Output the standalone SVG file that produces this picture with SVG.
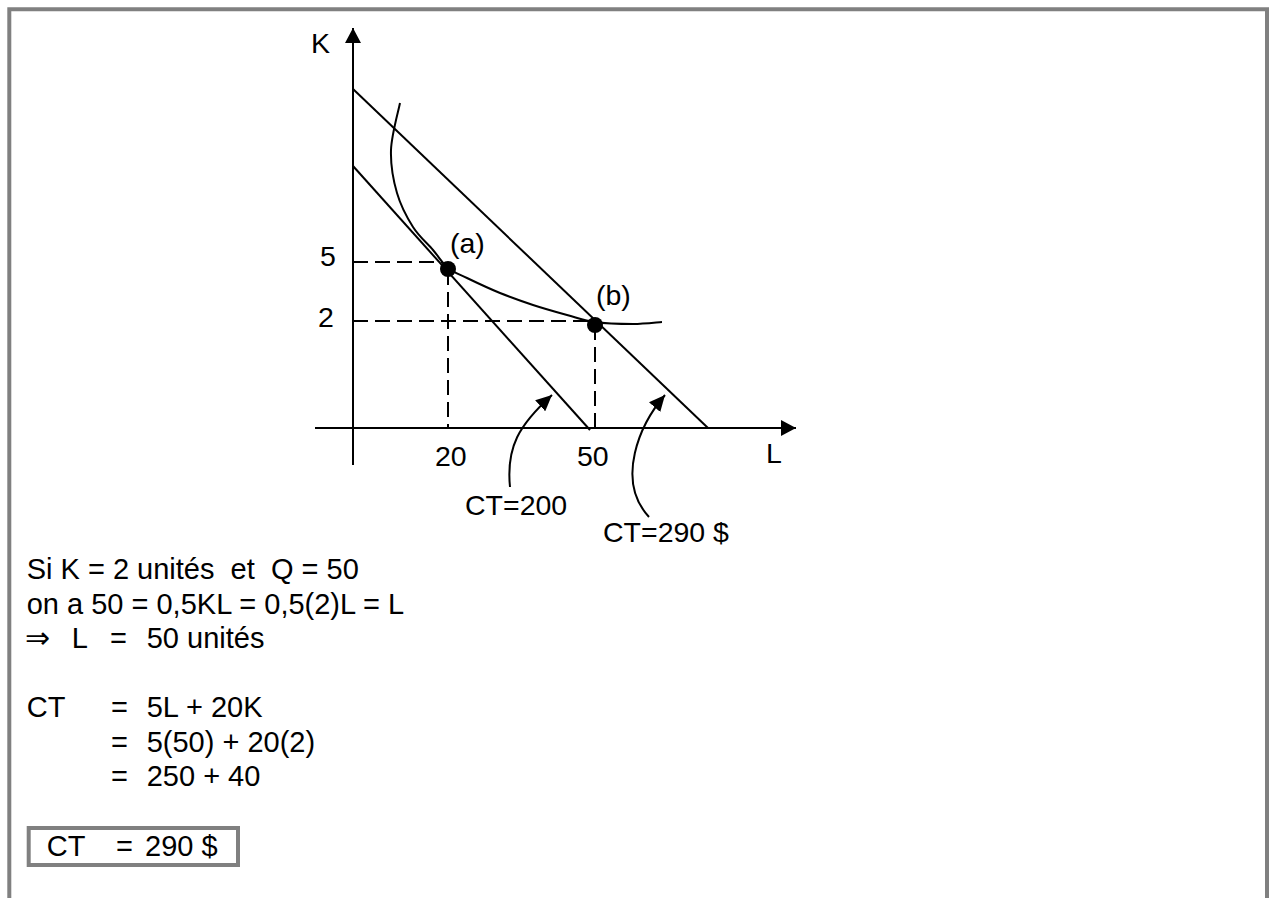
<svg xmlns="http://www.w3.org/2000/svg" width="1270" height="898" viewBox="0 0 1270 898">
<style>
  .t { font-family: "Liberation Sans", Arial, sans-serif; font-size: 28.5px; fill: #000; white-space: pre; }
  .b { font-size: 29px; }
  .sym { font-family: "DejaVu Sans", sans-serif; font-size: 30px; }
  .ln { stroke: #000; stroke-width: 2; fill: none; }
  .dash { stroke: #000; stroke-width: 2; fill: none; stroke-dasharray: 15 7; }
  .frame { stroke: #808080; stroke-width: 4; fill: none; }
</style>
<defs>
  <marker id="axisArrow" markerUnits="userSpaceOnUse" markerWidth="16" markerHeight="16" refX="15" refY="8" orient="auto">
    <path d="M0,0 L15,8 L0,16 z" fill="#000"/>
  </marker>
  <marker id="ptr" markerUnits="userSpaceOnUse" markerWidth="17" markerHeight="15" refX="16" refY="7.5" orient="auto">
    <path d="M0,0 L16,7.5 L0,15 z" fill="#000"/>
  </marker>
</defs>
<rect width="1270" height="898" fill="#fff"/>
<g id="frame">
  <path class="frame" d="M9.3,900 V9.2 H1267 V900"/>
</g>
<g id="axes">
  <line class="ln" x1="353" y1="465" x2="353" y2="28" marker-end="url(#axisArrow)"/>
  <line class="ln" x1="315" y1="428" x2="796" y2="428" marker-end="url(#axisArrow)"/>
  <text class="t" x="311" y="53">K</text>
  <text class="t" x="766" y="463">L</text>
</g>
<g id="budget-lines">
  <line class="ln" x1="353" y1="89" x2="708" y2="428"/>
  <line class="ln" x1="353" y1="166" x2="590" y2="430"/>
</g>
<g id="guides">
  <line class="dash" x1="353" y1="262" x2="442" y2="262"/>
  <line class="dash" x1="448" y1="270" x2="448" y2="428"/>
  <line class="dash" x1="353" y1="321" x2="588" y2="321"/>
  <line class="dash" x1="595" y1="325" x2="595" y2="428"/>
  <text class="t" x="320" y="266">5</text>
  <text class="t" x="318" y="327">2</text>
  <text class="t" x="435" y="466">20</text>
  <text class="t" x="577" y="466">50</text>
</g>
<g id="isoquant">
  <path class="ln" d="M400,103 C398.5,110.8 391.5,135 391,150 C390.5,165 393.3,180.2 397,193 C400.7,205.8 407,217.5 413,227 C419,236.5 427.2,243.2 433,250 C438.8,256.8 442.3,263.3 448,268 C453.7,272.7 458.3,273.8 467,278 C475.7,282.2 489,288.5 500,293 C511,297.5 521.8,301.3 533,305 C544.2,308.7 556.8,312.2 567,315 C577.2,317.8 583,320.5 594,322 C605,323.5 621.7,324 633,324 C644.3,324 657.2,322.3 662,322"/>
</g>
<g id="point-a">
  <circle cx="448" cy="269" r="8" fill="#000"/>
  <text class="t" x="450" y="253">(a)</text>
</g>
<g id="point-b">
  <circle cx="595" cy="325" r="8" fill="#000"/>
  <text class="t" x="596" y="305">(b)</text>
</g>
<g id="connectors">
  <path class="ln" d="M510,487 C506,447 519,425 552,395" marker-end="url(#ptr)"/>
  <path class="ln" d="M649,517 C615,480 640,424 665,395" marker-end="url(#ptr)"/>
</g>
<g id="label-ct200">
  <text class="t" x="465" y="515">CT=200</text>
</g>
<g id="label-ct290">
  <text class="t" x="603" y="542">CT=290 $</text>
</g>
<g id="calc">
  <text class="t b" x="26.7" y="579">Si K = 2 unités  et  Q = 50</text>
  <text class="t b" x="26.7" y="614">on a 50 = 0,5KL = 0,5(2)L = L</text>
  <text class="t sym" x="25" y="648">⇒</text>
  <text class="t b" x="71.7" y="648">L</text>
  <text class="t b" x="110" y="648">=</text>
  <text class="t b" x="146.7" y="648">50 unités</text>
  <text class="t b" x="26.7" y="717">CT</text>
  <text class="t b" x="111" y="717">=</text>
  <text class="t b" x="146.7" y="717">5L + 20K</text>
  <text class="t b" x="111" y="752">=</text>
  <text class="t b" x="146.7" y="752">5(50) + 20(2)</text>
  <text class="t b" x="111" y="786">=</text>
  <text class="t b" x="146.7" y="786">250 + 40</text>
</g>
<g id="result-box">
  <rect x="28.7" y="828" width="209.3" height="37" fill="none" stroke="#808080" stroke-width="4"/>
  <text class="t b" x="46.7" y="856">CT</text>
  <text class="t b" x="116" y="856">=</text>
  <text class="t b" x="145" y="856">290 $</text>
</g>
</svg>
